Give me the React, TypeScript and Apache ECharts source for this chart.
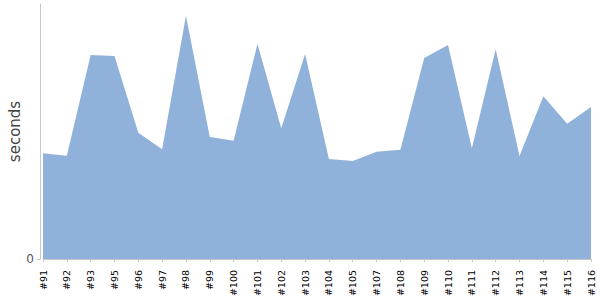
import React, { useEffect, useRef } from "react";
import * as echarts from "echarts";

const categories = [
  "#91", "#92", "#93", "#95", "#96", "#97", "#98", "#99", "#100", "#101", "#102", "#103",
  "#104", "#105", "#107", "#108", "#109", "#110", "#111", "#112", "#113", "#114", "#115", "#116",
];
const seconds = [
  105.7, 103.3, 204, 203, 126.3, 109.7, 243.3, 122, 118.3, 215, 130.7, 205,
  100, 98, 107.3, 109.3, 201, 214, 110.7, 209.7, 103, 162.7, 135.3, 152,
];
const yMax = 255;
const yTickValues = [0];

export default function App() {
  const ref = useRef<HTMLDivElement>(null);
  useEffect(() => {
    if (!ref.current) return;
    const chart = echarts.init(ref.current, undefined, { renderer: "svg" });
    chart.setOption({
      animation: false,
      grid: { left: 43, right: 9, top: 4, bottom: 41, containLabel: false, outerBoundsMode: "none" },
      xAxis: {
        type: "category",
        data: categories,
        boundaryGap: false,
        offset: 3,
        axisLine: { lineStyle: { color: "#c8c8c8", width: 1 } },
        axisTick: { alignWithLabel: true, length: 3, lineStyle: { color: "#c8c8c8" } },
        axisLabel: {
          rotate: 90,
          interval: 0,
          color: "#000",
          fontFamily: "DejaVu Sans",
          fontSize: 9.5,
          margin: 8,
        },
        splitLine: { show: false },
      },
      yAxis: {
        type: "value",
        min: 0,
        max: yMax,
        offset: 3,
        name: "seconds",
        nameLocation: "middle",
        nameRotate: 90,
        nameGap: 18,
        nameMoveOverlap: false,
        nameTextStyle: { fontFamily: "DejaVu Sans", fontSize: 15, color: "#444" },
        axisLine: { show: true, lineStyle: { color: "#c8c8c8", width: 1 } },
        axisTick: { show: true, length: 3, customValues: yTickValues, lineStyle: { color: "#c8c8c8" } },
        axisLabel: {
          customValues: yTickValues,
          color: "#555",
          fontFamily: "DejaVu Sans",
          fontSize: 12,
          margin: 6,
        },
        splitLine: { show: false },
      },
      series: [
        {
          type: "line",
          data: seconds,
          showSymbol: false,
          symbol: "none",
          lineStyle: { width: 0 },
          areaStyle: { color: "#8fb1da", opacity: 1 },
          silent: true,
        },
      ],
    });
    return () => chart.dispose();
  }, []);
  return <div ref={ref} style={{ width: 600, height: 300, position: "absolute", left: 0, top: 0 }} />;
}
